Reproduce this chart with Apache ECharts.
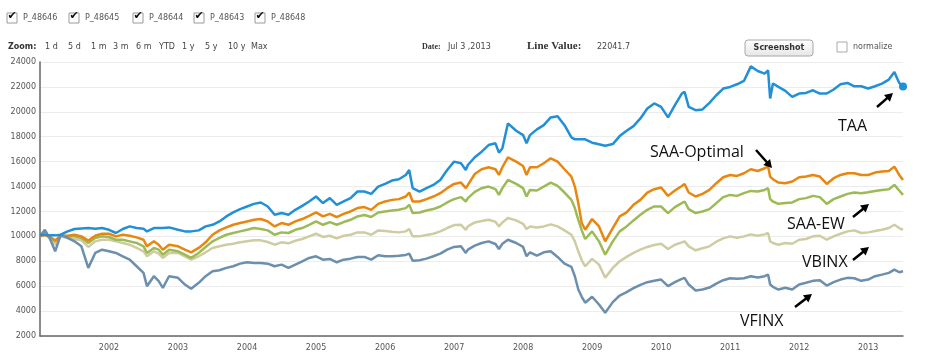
<!DOCTYPE html>
<html><head><meta charset="utf-8">
<script src="https://cdn.jsdelivr.net/npm/echarts@6/dist/echarts.min.js"></script>
<style>html,body{margin:0;padding:0;background:#fff}#c{width:928px;height:363px}</style>
</head><body><div id="c"></div>
<script>
// ---- data (decimal years) ----
const years = [
2001.0,2001.07,2001.15,2001.22,2001.3,2001.4,2001.5,2001.6,2001.7,2001.8,2001.9,
2002.0,2002.1,2002.2,2002.3,2002.4,2002.5,2002.55,2002.65,2002.72,2002.78,2002.87,
2003.0,2003.1,2003.19,2003.3,2003.4,2003.5,2003.6,2003.7,2003.8,2003.9,
2004.0,2004.1,2004.2,2004.3,2004.4,2004.5,2004.6,2004.7,2004.8,2004.9,
2005.0,2005.1,2005.2,2005.3,2005.4,2005.5,2005.6,2005.7,2005.8,2005.9,
2006.0,2006.1,2006.2,2006.3,2006.35,2006.4,2006.5,2006.6,2006.7,2006.8,2006.9,
2007.0,2007.1,2007.17,2007.2,2007.3,2007.4,2007.5,2007.6,2007.65,2007.7,2007.78,2007.9,
2008.0,2008.05,2008.1,2008.2,2008.3,2008.4,2008.5,2008.6,2008.7,2008.75,2008.8,2008.85,2008.9,
2009.0,2009.1,2009.19,2009.3,2009.4,2009.5,2009.6,2009.7,2009.8,2009.9,
2010.0,2010.1,2010.2,2010.3,2010.34,2010.4,2010.5,2010.6,2010.7,2010.8,2010.9,
2011.0,2011.1,2011.2,2011.3,2011.4,2011.5,2011.55,2011.58,2011.62,2011.7,2011.8,2011.9,
2012.0,2012.1,2012.2,2012.3,2012.4,2012.5,2012.6,2012.7,2012.8,2012.9,
2013.0,2013.1,2013.2,2013.3,2013.38,2013.45,2013.505];

const taa = [
10130,10130,10080,10080,10130,10400,10590,10640,10670,10610,10670,10530,10270,10590,10800,10670,10610,10400,10670,10670,10670,10720,10530,10400,10400,10480,10800,10930,11200,11600,11920,12190,12400,12610,
12720,12400,11730,11870,11730,12130,12450,12800,13200,12670,13070,12530,12800,13070,13600,13600,13410,14000,14210,14480,14590,14930,15330,13870,13600,13870,14130,14530,15330,16000,15870,15330,15730,
16350,16800,17330,17470,16720,17070,19070,18480,18130,17470,18130,18590,18930,19550,19650,18930,17950,17790,17790,17790,17790,17520,17390,17280,17410,18050,18480,18850,19470,20270,20670,20400,19550,20530,21470,21600,20400,
20130,20190,20720,21330,21870,22000,22210,22480,23650,23280,23070,23330,21070,22270,22000,21680,21200,21470,21520,21730,21470,21470,21790,22210,22320,22050,22050,21870,22050,22270,22590,23200,22320,22041.7];

const saaOptimal = [
10000,10130,9950,9670,10050,10050,10130,10000,9670,10050,10210,10210,10000,10130,10050,9920,9730,9200,9600,9330,8930,9330,9200,8930,8720,9070,9520,10130,10480,10720,10930,11070,11200,11330,
11390,11200,10800,11070,10930,11200,11390,11650,11920,11600,11810,11550,11810,12000,12270,12350,12130,12610,12800,12930,12990,13200,13520,12800,12800,12990,13200,13470,13870,14210,14320,13870,14130,
15010,15390,15550,15390,14930,15550,16350,16000,15650,14930,15550,15550,15870,16270,16000,15390,14800,14000,12670,11070,10530,11390,10800,9600,10670,11600,11920,12530,12930,13520,13790,13920,13250,13680,14050,14210,13520,
13200,13410,13730,14270,14750,14930,14850,15070,15390,15250,15470,15600,14800,14590,14320,14270,14400,14750,14800,14930,14800,14210,14670,14930,15070,15070,14930,14930,15120,15200,15250,15600,14930,14530];

const saaEw = [
10000,10130,9950,9600,10050,10000,10000,9870,9470,9870,10000,9950,9730,9730,9600,9470,9200,8670,9070,8930,8530,8930,8800,8530,8270,8670,9150,9600,9870,10130,10270,10400,10530,10670,
10590,10480,10130,10320,10270,10530,10670,10930,11200,10930,11150,10930,11150,11330,11600,11710,11550,11920,12000,12080,12130,12270,12530,11870,11920,12080,12190,12400,12720,12990,13150,12800,13070,
13570,13870,14000,13790,13330,13870,14530,14210,13870,13200,13730,13680,14000,14320,14050,13520,12930,12270,11330,10480,9790,10400,9600,8530,9600,10400,10800,11280,11730,12130,12400,12400,11870,12350,12670,12800,12190,
11870,12000,12190,12670,13150,13330,13250,13470,13650,13600,13730,13870,12990,12800,12610,12670,12720,12990,13070,13250,13150,12610,12990,13200,13410,13520,13470,13550,13650,13730,13790,14130,13680,13330];

const vbinx = [
10000,10130,9870,9330,10000,9870,9790,9680,9150,9600,9730,9730,9600,9470,9330,9070,8800,8400,8800,8610,8270,8670,8670,8400,8130,8400,8720,9070,9200,9330,9410,9520,9600,9680,
9680,9550,9330,9520,9440,9650,9790,10000,10210,9950,10050,9840,10050,10130,10320,10320,10130,10480,10430,10370,10320,10400,10590,10000,10000,10110,10210,10400,10670,10910,10930,10530,10800,
11120,11230,11330,11170,10800,11120,11470,11280,11010,10590,10800,10720,10800,10960,10800,10480,10130,9600,8800,8080,7600,8190,7730,6670,7470,8000,8350,8670,8930,9150,9310,9410,8990,9330,9520,9600,9200,
8880,9040,9200,9570,9840,10000,9890,10000,10160,10050,10160,10270,9600,9470,9330,9470,9410,9730,9790,10000,10050,9730,10000,10210,10400,10480,10270,10320,10430,10530,10670,10930,10670,10530];

const vfinx = [
10000,10530,9730,8800,10130,9870,9600,9200,7470,8670,8930,8800,8670,8400,8130,7600,7070,6000,6800,6400,5870,6800,6670,6130,5790,6270,6800,7200,7280,7470,7600,7810,7920,7870,
7870,7810,7600,7730,7470,7730,8000,8270,8400,8130,8190,7920,8130,8210,8350,8350,8130,8480,8400,8400,8450,8510,8610,8050,8080,8210,8400,8610,8930,9150,9200,8670,8930,
9250,9470,9600,9390,8990,9410,9730,9470,9150,8400,8720,8450,8720,8800,8350,7810,7550,6800,5730,5150,4670,5150,4530,3870,4720,5250,5520,5840,6110,6320,6430,6530,6000,6320,6590,6670,6130,
5650,5730,5890,6210,6480,6640,6590,6640,6800,6690,6800,6930,6130,5950,5730,5870,5730,6130,6270,6430,6480,6050,6320,6530,6670,6640,6430,6530,6800,6930,7070,7330,7120,7200];

const seriesNames = ['P_48646','P_48645','P_48644','P_48643','P_48648'];
const annotationNames = ['TAA','SAA-Optimal','SAA-EW','VBINX','VFINX'];
const zoomButtons = ['1 d','5 d','1 m','3 m','6 m','YTD','1 y','5 y','10 y','Max'];
const dateText = 'Jul 3 ,2013';
const lineValueText = '22041.7';
// ---------------------------------------------------------------

const colors = ['#2190d6','#e8870f','#9cba55','#cfcca2','#6b8fad'];
const seriesVals = [taa, saaOptimal, saaEw, vbinx, vfinx];
const pair = arr => years.map((y, i) => [y, arr[i]]);

const chart = echarts.init(document.getElementById('c'), null, {renderer: 'canvas'});

const UI = 'DejaVu Sans';
const gfx = [];
// legend checkboxes
const legendX = [7, 69, 133, 194, 255];
seriesNames.forEach((n, i) => {
  const x = legendX[i];
  gfx.push({type:'rect', shape:{x:x, y:13, width:10, height:10}, style:{fill:'#fff', stroke:'#9a9a9a', lineWidth:1}});
  gfx.push({type:'text', x:x + 0.5, y:11, style:{text:'✔', font:'bold 11px "DejaVu Sans"', fill:'#111'}});
  gfx.push({type:'text', x:x + 16, y:14, style:{text:n, font:'8px "DejaVu Sans"', fill:'#555'}});
});
// zoom row
gfx.push({type:'text', x:8, y:43, style:{text:'Zoom:', font:'bold 8px "DejaVu Sans"', fill:'#333'}});
const zoomX = [45, 68, 91, 113, 136, 159, 182, 205, 228, 251];
zoomButtons.forEach((z, i) => gfx.push({type:'text', x:zoomX[i], y:43, style:{text:z, font:'8px "DejaVu Sans"', fill:'#444'}}));
gfx.push({type:'text', x:422, y:43, style:{text:'Date:', font:'bold 8px "Liberation Serif"', fill:'#333'}});
gfx.push({type:'text', x:448, y:43, style:{text:dateText, font:'8px "DejaVu Sans"', fill:'#444'}});
gfx.push({type:'text', x:527, y:41, style:{text:'Line Value:', font:'bold 11px "Liberation Serif"', fill:'#333'}});
gfx.push({type:'text', x:597, y:43, style:{text:lineValueText, font:'8px "DejaVu Sans"', fill:'#444'}});
// screenshot button
gfx.push({type:'rect', shape:{x:745, y:40, width:68, height:16, r:3},
  style:{fill:new echarts.graphic.LinearGradient(0,0,0,1,[{offset:0,color:'#ffffff'},{offset:1,color:'#e6e6e6'}]), stroke:'#a8a8a8', lineWidth:1}});
gfx.push({type:'text', x:779, y:48, style:{text:'Screenshot', font:'bold 8px "DejaVu Sans"', fill:'#333', align:'center', verticalAlign:'middle'}});
gfx.push({type:'rect', shape:{x:837, y:42, width:10, height:10}, style:{fill:'#fff', stroke:'#aaa', lineWidth:1}});
gfx.push({type:'text', x:853, y:43, style:{text:'normalize', font:'8px "DejaVu Sans"', fill:'#555'}});

// annotations (text + arrows)
const annoPos = [[838,118],[650,144],[787,216],[802,254],[740,313]];
annotationNames.forEach((t, i) => gfx.push({type:'text', x:annoPos[i][0], y:annoPos[i][1], z:100,
  style:{text:t, font:'16px "Open Sans"', fill:'#111'}}));
const arrows = [[[877,107],[893,93]],[[756,150],[772,168]],[[853,217],[869,204]],[[853,260],[869,247]],[[795,307],[812,294]]];
arrows.forEach(a => {
  const [t, h] = a; const dx = h[0]-t[0], dy = h[1]-t[1]; const L = Math.hypot(dx, dy);
  const ux = dx/L, uy = dy/L, nx = -uy, ny = ux;
  const bx = h[0]-ux*8, by = h[1]-uy*8;
  gfx.push({type:'line', z:100, shape:{x1:t[0], y1:t[1], x2:bx+ux*1, y2:by+uy*1}, style:{stroke:'#000', lineWidth:2.5}});
  gfx.push({type:'polygon', z:100, shape:{points:[[h[0],h[1]],[bx+nx*4.5,by+ny*4.5],[bx-nx*4.5,by-ny*4.5]]}, style:{fill:'#000'}});
});

const order = [3, 2, 1, 4, 0];
chart.setOption({
  animation: false,
  grid: {left: 40, right: 25, top: 62, bottom: 27},
  xAxis: {type:'value', min:2001, max:2013.505, interval:1,
    axisLine:{show:true, onZero:false, lineStyle:{color:'#666', width:1.5}},
    axisTick:{show:false}, splitLine:{show:false},
    axisLabel:{color:'#555', fontFamily:UI, fontSize:8, margin:8,
      formatter: v => (Math.abs(v - Math.round(v)) < 1e-6 && Math.round(v) > 2001) ? String(Math.round(v)) : ''}},
  yAxis: {type:'value', min:2000, max:24000, interval:2000,
    axisLine:{show:true, lineStyle:{color:'#666', width:1.5}},
    axisTick:{show:false},
    splitLine:{lineStyle:{color:'#ececec', width:1}},
    axisLabel:{color:'#555', fontFamily:UI, fontSize:8, margin:4, formatter: v => String(Math.round(v))}},
  series: order.map(i => ({
    name: seriesNames[i], type:'line', data: pair(seriesVals[i]), showSymbol:false,
    lineStyle:{color:colors[i], width:2.5}, itemStyle:{color:colors[i]}, z: 2 + order.indexOf(i),
    markPoint: i === 0 ? {symbol:'circle', symbolSize:8, label:{show:false}, itemStyle:{color:colors[0]},
      data:[{coord:[years[years.length-1], taa[taa.length-1]]}]} : undefined
  })),
  graphic: gfx
});
</script></body></html>
